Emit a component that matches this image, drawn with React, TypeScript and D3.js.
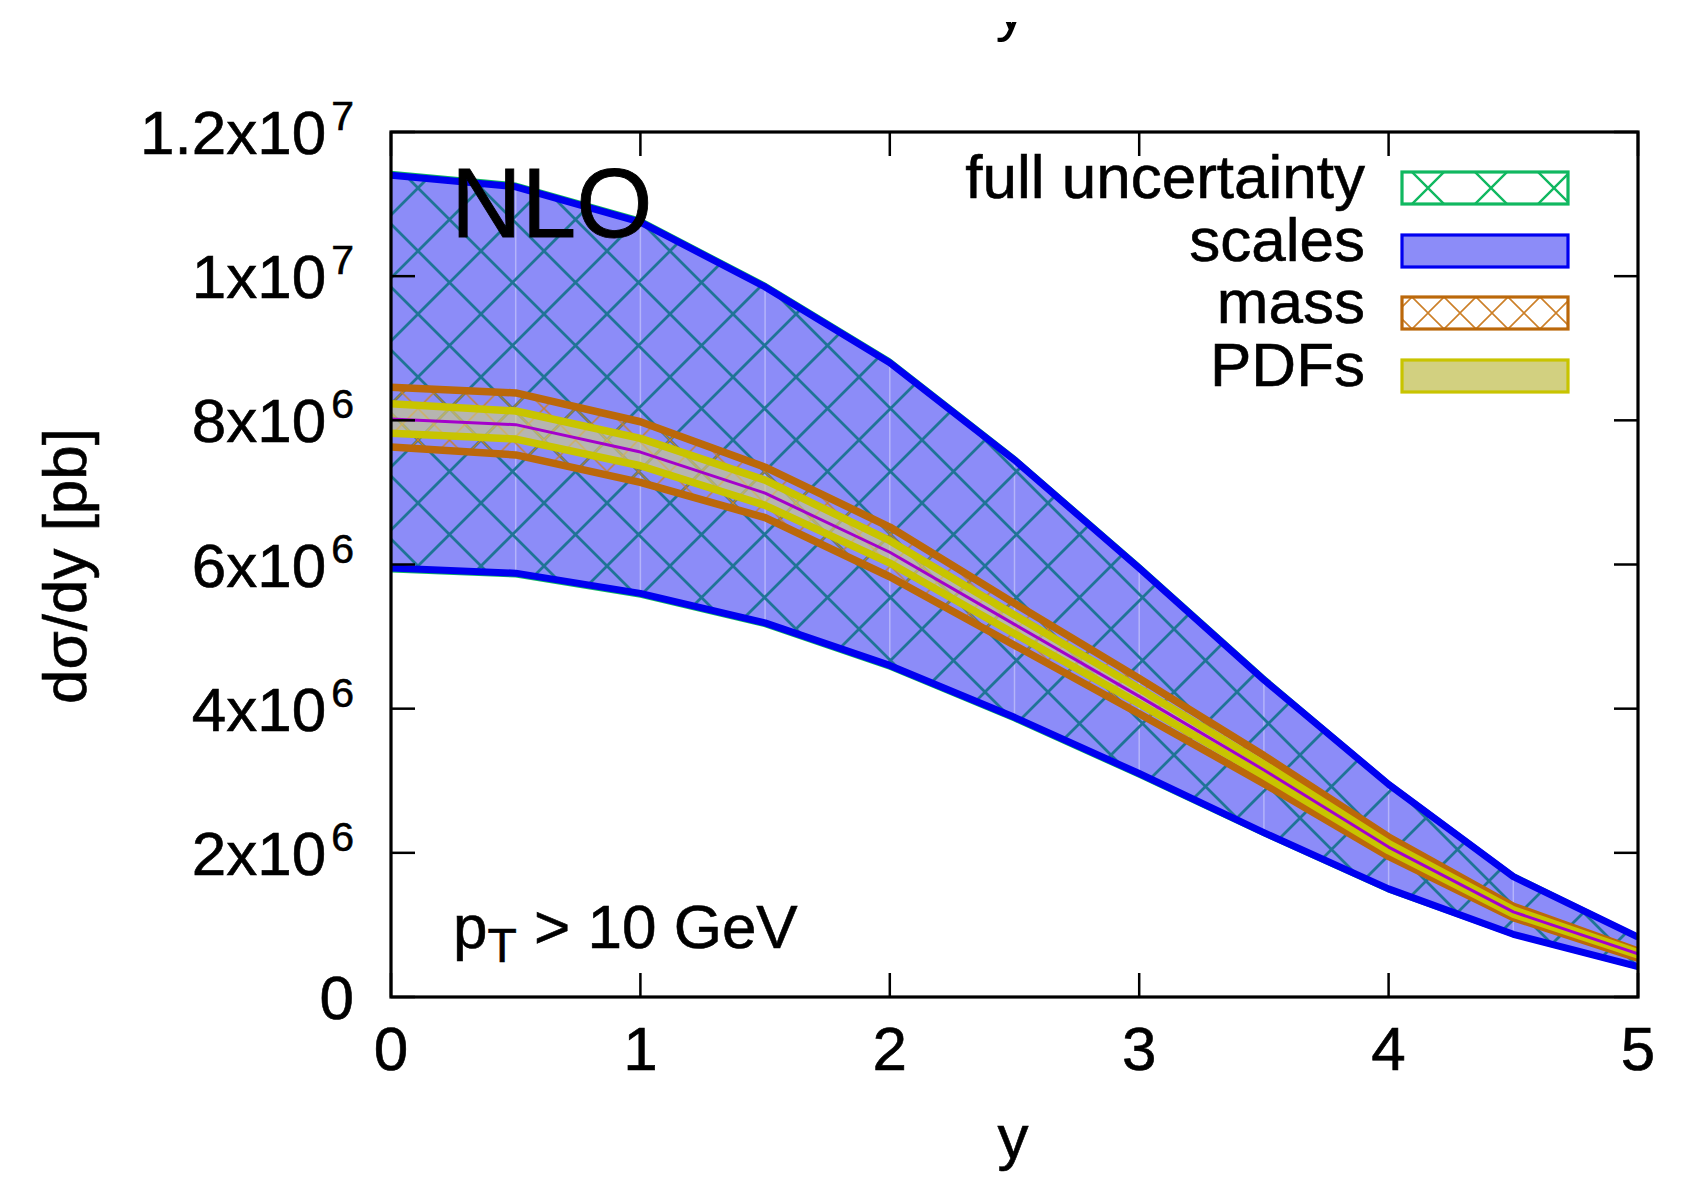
import React from 'react';
import * as d3 from 'd3';

// rapidity points
const rapidity = [0, 0.5, 1, 1.5, 2, 2.5, 3, 3.5, 4, 4.5, 5];

// full uncertainty band
const fullUpper = [1.144e7, 1.128e7, 1.079e7, 9.89e6, 8.84e6, 7.49e6, 5.99e6, 4.44e6, 2.98e6, 1.70e6, 0.85e6];
const fullLower = [5.91e6, 5.84e6, 5.56e6, 5.15e6, 4.56e6, 3.84e6, 3.06e6, 2.25e6, 1.47e6, 0.85e6, 0.40e6];
// scale band
const scalesUpper = [1.140e7, 1.124e7, 1.075e7, 9.85e6, 8.80e6, 7.45e6, 5.95e6, 4.40e6, 2.95e6, 1.67e6, 0.83e6];
const scalesLower = [5.95e6, 5.88e6, 5.60e6, 5.19e6, 4.60e6, 3.88e6, 3.10e6, 2.28e6, 1.50e6, 0.87e6, 0.42e6];
// mass band
const massUpper = [8.46e6, 8.38e6, 7.98e6, 7.35e6, 6.52e6, 5.46e6, 4.42e6, 3.35e6, 2.22e6, 1.26e6, 0.64e6];
const massLower = [7.63e6, 7.52e6, 7.14e6, 6.65e6, 5.83e6, 4.88e6, 3.93e6, 2.96e6, 1.95e6, 1.10e6, 0.54e6];
// PDF band
const pdfUpper = [8.23e6, 8.13e6, 7.75e6, 7.17e6, 6.33e6, 5.30e6, 4.28e6, 3.23e6, 2.13e6, 1.21e6, 0.615e6];
const pdfLower = [7.82e6, 7.74e6, 7.37e6, 6.82e6, 6.02e6, 5.04e6, 4.07e6, 3.07e6, 2.03e6, 1.15e6, 0.585e6];
// central
const central = [8.02e6, 7.94e6, 7.56e6, 6.99e6, 6.17e6, 5.17e6, 4.17e6, 3.15e6, 2.08e6, 1.18e6, 0.60e6];

const xTicks = [0, 1, 2, 3, 4, 5];
const yTicks = [0, 2e6, 4e6, 6e6, 8e6, 1e7, 1.2e7];
const yTickMantissa = ['0', '2', '4', '6', '8', '1', '1.2'];
const yTickExponent = ['', '6', '6', '6', '6', '7', '7'];
const legendLabels = ['full uncertainty', 'scales', 'mass', 'PDFs'];

const FONT = '"Liberation Sans", Arial, Helvetica, sans-serif';

const C = {
  blueFill: '#8c8cf8',
  blue: '#0000f0',
  green: '#10b860',
  teal: '#1f7496',
  brown: '#bb680a',
  orangeHatch: '#cc8028',
  yellow: '#c8c400',
  pdfFill: '#d2d080',
  purple: '#a400cc',
};

function hatchPattern(id: string, size: number, color: string, width: number, ax: number, ay: number) {
  const s = size;
  const d = `M0,0L${s},${s} M${-s},0L${s},${2 * s} M0,${-s}L${2 * s},${s} M${s},0L0,${s} M0,0L${-s},${s} M${2 * s},0L0,${2 * s} M${s},${-s}L${-s},${s}`;
  return (
    <pattern id={id} patternUnits="userSpaceOnUse" width={s} height={s}
      patternTransform={`translate(${ax},${ay})`}>
      <path d={d} stroke={color} strokeWidth={width} fill="none" />
    </pattern>
  );
}

export default function App() {
  const W = 1681, H = 1179;
  const m = { left: 391, right: 1638, top: 132, bottom: 997 };
  const x = d3.scaleLinear().domain([0, 5]).range([m.left, m.right]);
  const y = d3.scaleLinear().domain([0, 1.2e7]).range([m.bottom, m.top]);

  const band = (lo: number[], hi: number[]) =>
    d3.area<number>()
      .x((d) => x(d))
      .y0((_d, i) => y(lo[i]))
      .y1((_d, i) => y(hi[i]))(rapidity) as string;
  const line = (arr: number[]) =>
    d3.line<number>().x((d) => x(d)).y((_d, i) => y(arr[i]))(rapidity) as string;

  const tick = 24;
  const legendCenters = [188, 251, 313, 376];
  const lgX0 = 1402, lgX1 = 1568, lgH = 32;

  return (
    <div style={{ position: 'absolute', left: 0, top: 0 }}>
      <svg width={W} height={H} viewBox={`0 0 ${W} ${H}`} style={{ display: 'block', background: '#fff' }}
        fontFamily={FONT}>
        <defs>
          {hatchPattern('fullHatch', 63, C.teal, 2.8, 418, 377)}
          {hatchPattern('massHatch', 31.5, C.orangeHatch, 1.4, 418, 377)}
          {hatchPattern('lgFullHatch', 63, C.green, 2.4, 1428, 188)}
          {hatchPattern('lgMassHatch', 32, C.orangeHatch, 1.6, 1428, 313)}
          <clipPath id="plotClip">
            <rect x={m.left} y={m.top} width={m.right - m.left} height={m.bottom - m.top} />
          </clipPath>
        </defs>
        <rect x={0} y={0} width={W} height={H} fill="#fff" />

        {/* cut-off title at top */}
        <text x={1011} y={29} fontSize={62} textAnchor="middle" fill="#000">y</text>
        <rect x={0} y={0} width={W} height={22} fill="#fff" />

        <g clipPath="url(#plotClip)">
          {/* scales fill */}
          <path d={band(scalesLower, scalesUpper)} fill={C.blueFill} stroke="none" />
          {/* polygon seams */}
          {rapidity.slice(1, -1).map((r, i) => (
            <line key={'seam' + r} x1={x(r)} x2={x(r)} y1={y(scalesLower[i + 1])} y2={y(scalesUpper[i + 1])}
              stroke="#ffffff" strokeOpacity={0.35} strokeWidth={1.5} />
          ))}
          {/* full uncertainty hatch */}
          <path d={band(fullLower, fullUpper)} fill="url(#fullHatch)" stroke="none" />
          <path d={line(fullUpper)} fill="none" stroke={C.green} strokeWidth={3} />
          <path d={line(fullLower)} fill="none" stroke={C.green} strokeWidth={3} />
          <path d={line(scalesUpper)} fill="none" stroke={C.blue} strokeWidth={7} strokeLinejoin="round" />
          <path d={line(scalesLower)} fill="none" stroke={C.blue} strokeWidth={7} strokeLinejoin="round" />

          {/* mass hatch */}
          <path d={band(massLower, massUpper)} fill="url(#massHatch)" stroke="none" />
          {/* PDF fill */}
          <path d={band(pdfLower, pdfUpper)} fill={C.pdfFill} fillOpacity={0.6} stroke="none" />
          <path d={line(massUpper)} fill="none" stroke={C.brown} strokeWidth={7.5} strokeLinejoin="round" />
          <path d={line(massLower)} fill="none" stroke={C.brown} strokeWidth={7.5} strokeLinejoin="round" />
          <path d={line(pdfUpper)} fill="none" stroke={C.yellow} strokeWidth={7.5} strokeLinejoin="round" />
          <path d={line(pdfLower)} fill="none" stroke={C.yellow} strokeWidth={7.5} strokeLinejoin="round" />
          <path d={line(central)} fill="none" stroke={C.purple} strokeWidth={3} strokeLinejoin="round" />
        </g>

        {/* ticks */}
        {yTicks.map((v) => (
          <g key={'yt' + v} stroke="#000" strokeWidth={2.5}>
            <line x1={m.left} x2={m.left + tick} y1={y(v)} y2={y(v)} />
            <line x1={m.right - tick} x2={m.right} y1={y(v)} y2={y(v)} />
          </g>
        ))}
        {xTicks.map((v) => (
          <g key={'xt' + v} stroke="#000" strokeWidth={2.5}>
            <line x1={x(v)} x2={x(v)} y1={m.bottom} y2={m.bottom - tick} />
            <line x1={x(v)} x2={x(v)} y1={m.top} y2={m.top + tick} />
          </g>
        ))}
        {/* frame */}
        <rect x={m.left} y={m.top} width={m.right - m.left} height={m.bottom - m.top}
          fill="none" stroke="#000" strokeWidth={3.2} />

        {/* y tick labels */}
        {yTicks.map((v, i) => (
          <text key={'yl' + v} x={354} y={y(v) + 22} textAnchor="end" fontSize={62} fill="#000"
            stroke="#000" strokeWidth={0.6}>
            {yTickExponent[i] ? `${yTickMantissa[i]}x10` : yTickMantissa[i]}
            {yTickExponent[i] ? (
              <tspan dx={5} dy={-24} fontSize={41}>{yTickExponent[i]}</tspan>
            ) : null}
          </text>
        ))}
        {/* x tick labels */}
        {xTicks.map((v) => (
          <text key={'xl' + v} x={x(v)} y={1070} textAnchor="middle" fontSize={62} fill="#000"
            stroke="#000" strokeWidth={0.6}>{v}</text>
        ))}

        {/* axis titles */}
        <text x={1013} y={1158} textAnchor="middle" fontSize={62} fill="#000" stroke="#000" strokeWidth={0.6}>y</text>
        <text transform="translate(86,566) rotate(-90)" textAnchor="middle" fontSize={62} fill="#000"
          stroke="#000" strokeWidth={0.6}>dσ/dy [pb]</text>

        {/* annotations */}
        <text x={451} y={237} fontSize={98} fill="#000" stroke="#000" strokeWidth={0.8}>NLO</text>
        <text x={453} y={948} fontSize={62} fill="#000" stroke="#000" strokeWidth={0.6}>
          p<tspan dy={14} fontSize={48}>T</tspan><tspan dy={-14} fontSize={62}> &gt; 10 GeV</tspan>
        </text>

        {/* legend */}
        {legendLabels.map((lab, i) => (
          <text key={'lg' + lab} x={1365} y={legendCenters[i] + 10} textAnchor="end" fontSize={62} fill="#000"
            stroke="#000" strokeWidth={0.6}>{lab}</text>
        ))}
        <rect x={lgX0} y={legendCenters[0] - lgH / 2} width={lgX1 - lgX0} height={lgH}
          fill="url(#lgFullHatch)" stroke={C.green} strokeWidth={3.2} />
        <rect x={lgX0} y={legendCenters[1] - lgH / 2} width={lgX1 - lgX0} height={lgH}
          fill={C.blueFill} stroke={C.blue} strokeWidth={3.2} />
        <rect x={lgX0} y={legendCenters[2] - lgH / 2} width={lgX1 - lgX0} height={lgH}
          fill="url(#lgMassHatch)" stroke={C.brown} strokeWidth={3.2} />
        <rect x={lgX0} y={legendCenters[3] - lgH / 2} width={lgX1 - lgX0} height={lgH}
          fill={C.pdfFill} stroke={C.yellow} strokeWidth={3.2} />
      </svg>
    </div>
  );
}
